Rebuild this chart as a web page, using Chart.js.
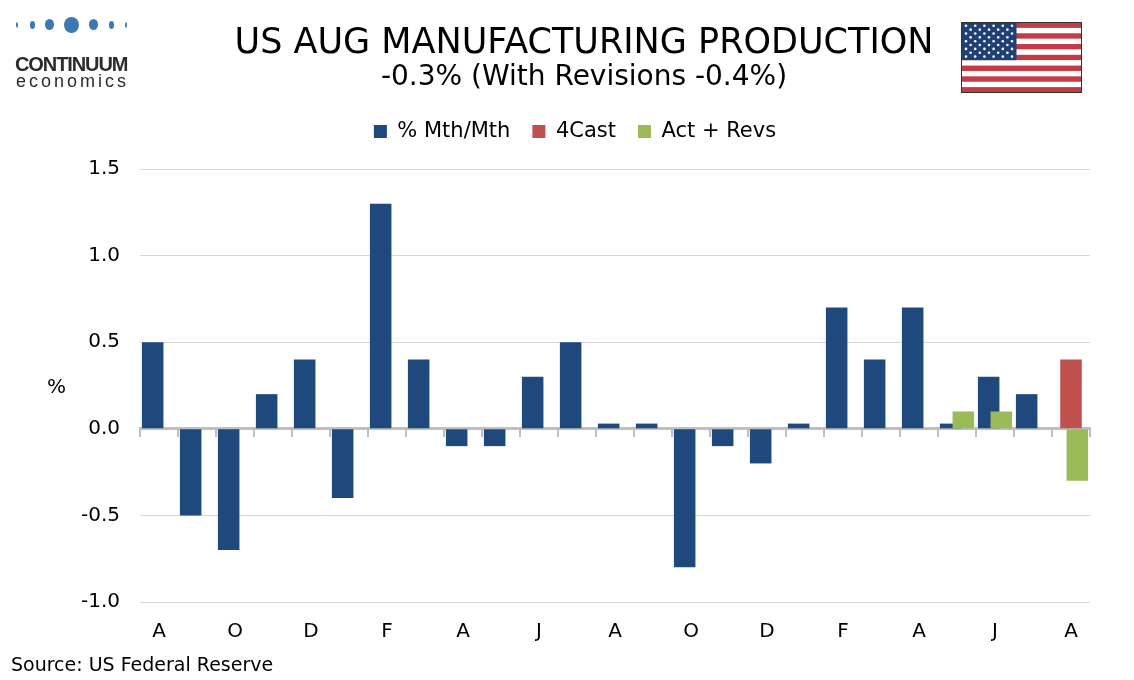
<!DOCTYPE html>
<html>
<head>
<meta charset="utf-8">
<title>US Aug Manufacturing Production</title>
<script src="https://cdn.jsdelivr.net/npm/chart.js@4"></script>
<style>
    html, body { margin: 0; padding: 0; background: #fff; }
    body { width: 1134px; height: 680px; position: relative; overflow: hidden; font-family: 'DejaVu Sans', Verdana, sans-serif; color: #000; }
    #wrap { position: absolute; left: 0; top: 0; width: 1134px; height: 680px; }
    .title { position: absolute; left: 84px; width: 1000px; text-align: center; line-height: 1; white-space: nowrap; }
    #t1 { top: 24px; font-size: 35px; }
    #t2 { top: 62px; font-size: 28px; }
    #unit { position: absolute; left: 47px; top: 376px; font-size: 20px; line-height: 1; }
    #source { position: absolute; left: 11px; top: 655px; font-size: 19px; line-height: 1; }
    #logo { position: absolute; left: 14px; top: 16px; width: 116px; }
    .dot { position: absolute; background: #3c78b4; border-radius: 50%; }
    #logo .name { position: absolute; left: 1px; top: 37px; font: bold 20px 'Liberation Sans', Arial, sans-serif; letter-spacing: -1.1px; color: #2b2b2b; }
    #logo .sub { position: absolute; left: 2px; top: 55px; font: 18px 'Liberation Sans', Arial, sans-serif; letter-spacing: 3px; color: #2b2b2b; }
    #flag { position: absolute; left: 961px; top: 22px; }
</style>
</head>
<body>
<div id="wrap"><canvas id="prodChart" width="1134" height="680"></canvas></div>

<div id="logo">
    <div class="dot" style="left:2px;top:6px;width:2px;height:6px"></div>
    <div class="dot" style="left:16px;top:5px;width:5px;height:8px"></div>
    <div class="dot" style="left:31px;top:3px;width:9px;height:11px"></div>
    <div class="dot" style="left:50px;top:1px;width:15px;height:16px"></div>
    <div class="dot" style="left:75px;top:3px;width:9px;height:11px"></div>
    <div class="dot" style="left:95px;top:5px;width:5px;height:8px"></div>
    <div class="dot" style="left:111px;top:6px;width:2px;height:6px"></div>
    <div class="name">CONTINUUM</div>
    <div class="sub">economics</div>
</div>

<div class="title" id="t1">US AUG MANUFACTURING PRODUCTION</div>
<div class="title" id="t2">-0.3% (With Revisions -0.4%)</div>
<canvas id="flag" width="121" height="71"></canvas>
<div id="unit">%</div>
<div id="source">Source: US Federal Reserve</div>

<script>
// Months Aug (2 yrs ago) .. Aug, one bar slot each
const months = ['A', 'S', 'O', 'N', 'D', 'J', 'F', 'M', 'A', 'M', 'J', 'J',
                'A', 'S', 'O', 'N', 'D', 'J', 'F', 'M', 'A', 'M', 'J', 'J', 'A'];

// % Mth/Mth
const mthMth = [0.5, -0.5, -0.7, 0.2, 0.4, -0.4, 1.3, 0.4, -0.1, -0.1, 0.3, 0.5,
                0.03, 0.03, -0.8, -0.1, -0.2, 0.03, 0.7, 0.4, 0.7, 0.03, 0.3, 0.2, null];

// 4Cast (only latest month)
const forecast = [null, null, null, null, null, null, null, null, null, null, null, null,
                  null, null, null, null, null, null, null, null, null, null, null, null, 0.4];

// Act + Revs
const actRevs = [null, null, null, null, null, null, null, null, null, null, null, null,
                 null, null, null, null, null, null, null, null, null, 0.1, 0.1, null, -0.3];

const yTicks = [-1.0, -0.5, 0.0, 0.5, 1.0, 1.5];

const FONT = "'DejaVu Sans', Verdana, sans-serif";

// Green bars overlap the blue ones, draw them last so they sit on top
const greenOnTop = {
    id: 'greenOnTop',
    beforeDatasetDraw(chart, args) {
        if (args.index === 2) return false;
    },
    afterDatasetsDraw(chart) {
        const meta = chart.getDatasetMeta(2);
        if (!meta.hidden) meta.controller.draw();
    }
};

// Extra space under the legend before the plot starts
const legendGap = {
    id: 'legendGap',
    beforeLayout(chart) {
        const lg = chart.legend;
        if (lg && !lg.$gap) {
            const fit = lg.fit;
            lg.fit = function () {
                fit.call(this);
                this.height += 17;
            };
            lg.$gap = true;
        }
    }
};

function initProdChart() {
    const ctx = document.getElementById('prodChart');

    new Chart(ctx, {
        type: 'bar',
        data: {
            labels: months,
            datasets: [
                { label: '% Mth/Mth', data: mthMth, backgroundColor: '#1f497d', borderWidth: 0, xAxisID: 'x' },
                { label: '4Cast', data: forecast, backgroundColor: '#c0504d', borderWidth: 0, xAxisID: 'x' },
                { label: 'Act + Revs', data: actRevs, backgroundColor: '#9bbb59', borderWidth: 0, xAxisID: 'x' }
            ]
        },
        options: {
            responsive: false,
            animation: false,
            categoryPercentage: 0.5,
            barPercentage: 3.4,
            layout: { padding: { left: 60, right: 44, top: 99, bottom: 28 } },
            plugins: {
                legend: {
                    display: true,
                    position: 'top',
                    labels: {
                        boxWidth: 13,
                        boxHeight: 13,
                        padding: 22,
                        color: '#000',
                        font: { family: FONT, size: 21 }
                    }
                },
                tooltip: { enabled: false }
            },
            scales: {
                x: {
                    type: 'category',
                    position: 'bottom',
                    grid: { display: false },
                    border: { display: false },
                    ticks: {
                        autoSkip: false,
                        maxRotation: 0,
                        padding: 10,
                        color: '#000',
                        font: { family: FONT, size: 20 },
                        callback: function (value, index) {
                            return index % 2 === 0 ? months[index] : '';
                        }
                    },
                    afterFit: function (scale) { scale.height = 50; }
                },
                x0: {
                    type: 'category',
                    axis: 'x',
                    position: { y: 0 },
                    z: 1,
                    grid: {
                        offset: true,
                        drawOnChartArea: false,
                        tickLength: 7,
                        color: '#bfbfbf',
                        lineWidth: 2
                    },
                    border: { display: true, color: '#bfbfbf', width: 3 },
                    ticks: { display: false }
                },
                y: {
                    min: yTicks[0],
                    max: yTicks[yTicks.length - 1],
                    afterBuildTicks: function (scale) {
                        scale.ticks = yTicks.map(v => ({ value: v }));
                    },
                    grid: { color: '#d9d9d9', lineWidth: 1, drawTicks: false },
                    border: { display: false },
                    ticks: {
                        padding: 20,
                        color: '#000',
                        font: { family: FONT, size: 20 },
                        callback: function (value) { return value.toFixed(1); }
                    },
                    afterFit: function (scale) { scale.width = 80; }
                }
            }
        },
        plugins: [greenOnTop, legendGap]
    });
}

// Small US flag in the top right corner
function drawFlag() {
    const c = document.getElementById('flag').getContext('2d');
    const w = 120, h = 70, stripe = h / 13;
    for (let i = 0; i < 13; i++) {
        c.fillStyle = i % 2 === 0 ? '#c23b45' : '#ffffff';
        c.fillRect(0.5, 0.5 + i * stripe, w, stripe + 0.3);
    }
    const cw = 55, ch = stripe * 7;
    c.fillStyle = '#203f75';
    c.fillRect(0.5, 0.5, cw, ch);
    c.fillStyle = '#ffffff';
    for (let r = 0; r < 9; r++) {
        const n = r % 2 === 0 ? 6 : 5;
        for (let k = 0; k < n; k++) {
            const sx = 0.5 + (r % 2 === 0 ? 4.5 + k * 9.2 : 9.1 + k * 9.2);
            const sy = 0.5 + 3.3 + r * 3.85;
            c.beginPath();
            c.arc(sx, sy, 1.3, 0, Math.PI * 2);
            c.fill();
        }
    }
    c.strokeStyle = '#333';
    c.lineWidth = 1;
    c.strokeRect(0.5, 0.5, w, h);
}

document.addEventListener('DOMContentLoaded', function () {
    drawFlag();
    if (typeof Chart !== 'undefined') {
        initProdChart();
    } else {
        console.error('Chart.js not loaded');
    }
});
</script>
</body>
</html>
